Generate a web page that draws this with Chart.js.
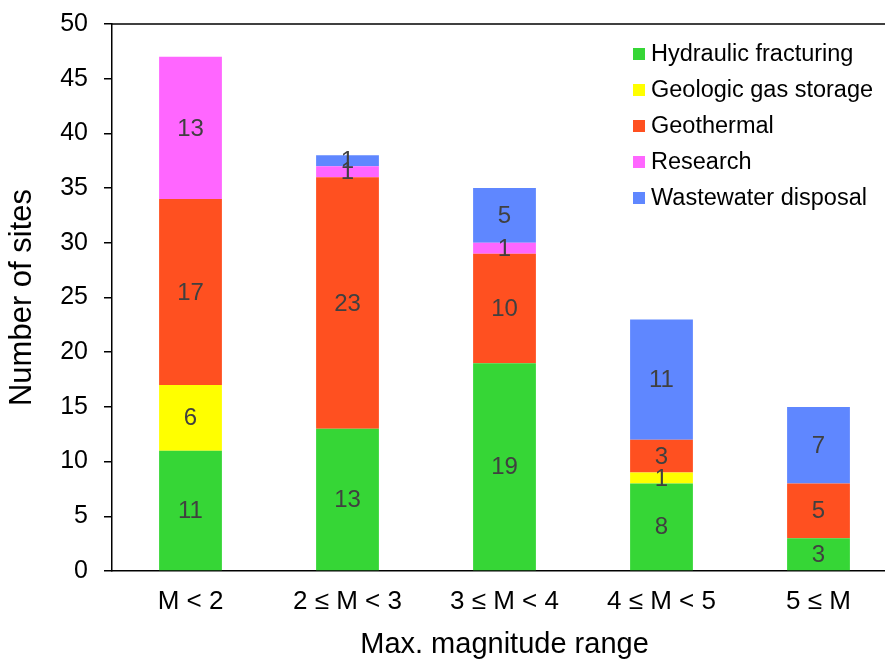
<!DOCTYPE html>
<html>
<head>
<meta charset="utf-8">
<script src="https://cdn.jsdelivr.net/npm/chart.js@4/dist/chart.umd.min.js"></script>
<style>
    body { margin: 0; overflow: hidden; background: #fff; }
    #wrap { width: 885px; height: 662px; overflow: hidden; }
</style>
</head>
<body>
<div id="wrap">
    <canvas id="magChart" width="900" height="662"></canvas>
</div>
<script>
// magnitude ranges on the x axis
const categories = ['M < 2', '2 \u2264 M < 3', '3 \u2264 M < 4', '4 \u2264 M < 5', '5 \u2264 M'];

// number of sites per type (null = none)
const hydraulicFracturing = [11, 13, 19, 8, 3];
const geologicGasStorage = [6, null, null, 1, null];
const geothermal = [17, 23, 10, 3, 5];
const research = [13, 1, 1, null, null];
const wastewaterDisposal = [null, 1, 5, 11, 7];

const yTicks = [0, 5, 10, 15, 20, 25, 30, 35, 40, 45, 50];

const fontName = '"Liberation Sans", Arial, sans-serif';

// labels inside each bar segment
const segmentLabels = {
    id: 'segmentLabels',
    afterDatasetsDraw(chart) {
        const ctx = chart.ctx;
        ctx.save();
        ctx.fillStyle = '#404040';
        ctx.font = '24px ' + fontName;
        ctx.textAlign = 'center';
        ctx.textBaseline = 'middle';
        chart.data.datasets.forEach((ds, i) => {
            const meta = chart.getDatasetMeta(i);
            meta.data.forEach((bar, j) => {
                const v = ds.data[j];
                if (!v) return;
                ctx.fillText(String(v), bar.x, (bar.y + bar.base) / 2 + 1);
            });
        });
        ctx.restore();
    }
};

// top frame line + legend inside the plot
const frameAndLegend = {
    id: 'frameAndLegend',
    afterDraw(chart) {
        const ctx = chart.ctx;
        const area = chart.chartArea;
        ctx.save();
        ctx.strokeStyle = '#000';
        ctx.lineWidth = 1.5;
        ctx.beginPath();
        ctx.moveTo(area.left, area.top);
        ctx.lineTo(area.right, area.top);
        ctx.stroke();

        ctx.font = '23.5px ' + fontName;
        ctx.textAlign = 'left';
        ctx.textBaseline = 'middle';
        const lx = area.right - 264;
        chart.data.datasets.forEach((ds, i) => {
            const ly = area.top + 30 + i * 36;
            ctx.fillStyle = ds.backgroundColor;
            ctx.fillRect(lx, ly - 6, 12, 12);
            ctx.fillStyle = '#000';
            ctx.fillText(ds.label, lx + 18, ly + 1);
        });
        ctx.restore();
    }
};

const ctx = document.getElementById('magChart').getContext('2d');

new Chart(ctx, {
    type: 'bar',
    data: {
        labels: categories,
        datasets: [
            { label: 'Hydraulic fracturing', data: hydraulicFracturing, backgroundColor: '#36d636' },
            { label: 'Geologic gas storage', data: geologicGasStorage, backgroundColor: '#ffff00' },
            { label: 'Geothermal', data: geothermal, backgroundColor: '#ff5020' },
            { label: 'Research', data: research, backgroundColor: '#ff66ff' },
            { label: 'Wastewater disposal', data: wastewaterDisposal, backgroundColor: '#5f87ff' }
        ]
    },
    options: {
        responsive: false,
        animation: false,
        devicePixelRatio: 1,
        layout: { padding: { top: 24, right: 3, left: 0, bottom: 0 } },
        datasets: {
            bar: { barPercentage: 1, categoryPercentage: 0.4, borderWidth: 0 }
        },
        plugins: {
            legend: { display: false },
            tooltip: { enabled: false }
        },
        scales: {
            x: {
                stacked: true,
                grid: { display: false, drawTicks: false },
                border: { display: true, color: '#000', width: 1.5 },
                ticks: { color: '#000', font: { size: 26, family: fontName }, padding: 15, maxRotation: 0 },
                title: {
                    display: true,
                    text: 'Max. magnitude range',
                    color: '#000',
                    font: { size: 29, family: fontName },
                    padding: { top: 0, bottom: 0 }
                },
                afterFit: s => { s.height = 91; s.paddingLeft = 0; s.paddingRight = 0; }
            },
            y: {
                stacked: true,
                min: 0,
                max: 50,
                afterBuildTicks: s => { s.ticks = yTicks.map(v => ({ value: v })); },
                grid: { drawOnChartArea: false, color: '#000', lineWidth: 1.5, tickLength: 8 },
                border: { display: true, color: '#000', width: 1.5 },
                ticks: { color: '#000', font: { size: 25, family: fontName }, padding: 16 },
                title: {
                    display: true,
                    text: 'Number of sites',
                    color: '#000',
                    font: { size: 31, family: fontName },
                    padding: { top: 4, bottom: 0 }
                },
                afterFit: s => { s.width = 112; s.paddingTop = 0; s.paddingBottom = 0; }
            }
        }
    },
    plugins: [segmentLabels, frameAndLegend]
});
</script>
</body>
</html>
